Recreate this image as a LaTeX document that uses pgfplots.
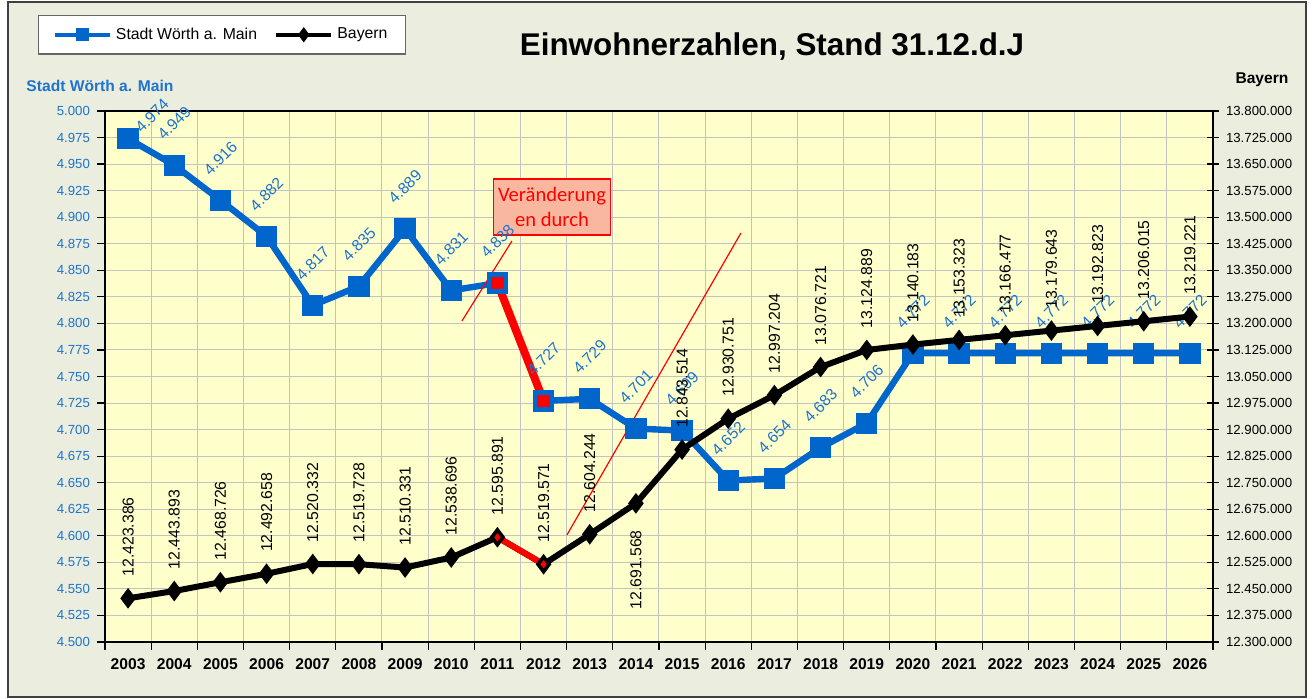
\documentclass[border=0pt]{standalone}
\usepackage{fontspec}
\setmainfont{Liberation Sans}
\newfontfamily\calibri{Carlito}
\usepackage{pgfplots}
\pgfplotsset{compat=1.18}
\definecolor{bgout}{RGB}{235,238,222}
\definecolor{bgplot}{RGB}{255,255,204}
\definecolor{wblue}{RGB}{0,102,204}
\definecolor{wtext}{RGB}{30,115,205}
\definecolor{gridc}{RGB}{195,195,195}
\definecolor{boxfill}{RGB}{250,183,160}

\pgfplotstableread{
x y lab dx dy
0 4974 4.974 12 11.5
1 4949 4.949 0 21
2 4916 4.916 0 21
3 4882 4.882 0 21
4 4817 4.817 0 21
5 4835 4.835 0 21
6 4889 4.889 0 21
7 4831 4.831 0 21
8 4838 4.838 0 21
9 4727 4.727 0 21
10 4729 4.729 0 21
11 4701 4.701 0 21
12 4699 4.699 0 21
13 4652 4.652 0 21
14 4654 4.654 0 21
15 4683 4.683 0 21
16 4706 4.706 0 21
17 4772 4.772 0 21
18 4772 4.772 0 21
19 4772 4.772 0 21
20 4772 4.772 0 21
21 4772 4.772 0 21
22 4772 4.772 0 21
23 4772 4.772 0 21
}\woerth

\pgfplotstableread{
x y lab dy
0 12423386 12.423.386 30.75
1 12443893 12.443.893 30.75
2 12468726 12.468.726 30.75
3 12492658 12.492.658 30.75
4 12520332 12.520.332 30.75
5 12519728 12.519.728 30.75
6 12510331 12.510.331 30.75
7 12538696 12.538.696 30.75
8 12595891 12.595.891 30.75
9 12519571 12.519.571 30.75
10 12604244 12.604.244 30.75
11 12691568 12.691.568 -33.25
12 12843514 12.843.514 30.75
13 12930751 12.930.751 30.75
14 12997204 12.997.204 30.75
15 13076721 13.076.721 30.75
16 13124889 13.124.889 30.75
17 13140183 13.140.183 30.75
18 13153323 13.153.323 30.75
19 13166477 13.166.477 30.75
20 13179643 13.179.643 30.75
21 13192823 13.192.823 30.75
22 13206015 13.206.015 30.75
23 13219221 13.219.221 30.75
}\bayern

\begin{document}
\begin{tikzpicture}
\useasboundingbox (0,0) rectangle (657pt,349.5pt);
\fill[white] (0,0) rectangle (657pt,349.5pt);
\filldraw[fill=bgout, draw=black!75, line width=0.8pt] (4pt,1pt) rectangle (653pt,348.5pt);

\begin{axis}[
  at={(52.5pt,28.5pt)}, anchor=south west,
  scale only axis, width=554pt, height=265.5pt,
  xmin=-0.5, xmax=23.5, ymin=4500, ymax=5000,
  axis background/.style={fill=bgplot},
  clip=false,
  axis line style={black, line width=0.9pt},
  xtick={0,...,23},
  xticklabels={2003,2004,2005,2006,2007,2008,2009,2010,2011,2012,2013,2014,2015,2016,2017,2018,2019,2020,2021,2022,2023,2024,2025,2026},
  every major x tick/.append style={draw=none},
  minor xtick={-0.5,0.5,...,23.5},
  xminorgrids=true,
  minor grid style={gridc, line width=0.5pt},
  major grid style={gridc, line width=0.5pt},
  ytick={4500,4525,...,5000},
  yticklabels={4.500,4.525,4.550,4.575,4.600,4.625,4.650,4.675,4.700,4.725,4.750,4.775,4.800,4.825,4.850,4.875,4.900,4.925,4.950,4.975,5.000},
  ymajorgrids=true,
  xtick pos=bottom, ytick pos=left,
  tick align=outside,
  major tick length=4pt, minor tick length=4pt,
  tick style={black, line width=0.6pt},
  xticklabel style={font=\fontsize{7.8}{9}\selectfont\bfseries, yshift=-1pt},
  yticklabel style={font=\fontsize{6.6}{8}\selectfont, text=wtext},
  legend style={at={(axis description cs:-0.0605,1.1808)}, anchor=north west,
    draw=black!60, fill=white, line width=0.6pt,
    font=\fontsize{7.9}{9.5}\selectfont, inner xsep=7pt, inner ysep=4pt,
    /tikz/every even column/.append style={column sep=6.5pt}},
  legend columns=2, legend cell align=left,
  legend image code/.code={\draw[mark repeat=2,mark phase=2,#1] plot coordinates {(0pt,0pt) (13.75pt,0pt) (27.5pt,0pt)};},
]
\addlegendimage{wblue, line width=2.2pt, mark=square*, mark size=2.2pt}
\addlegendentry{Stadt Wörth a. Main}
\addlegendimage{black, line width=2.2pt, mark=diamond*, mark size=2pt}
\addlegendentry{Bayern}

\addplot[wblue, line width=3.2pt, mark=square*, mark size=3.7pt, mark options={solid},
  nodes near coords, point meta=explicit symbolic,
  visualization depends on={\thisrow{dx} \as \dx},
  visualization depends on={\thisrow{dy} \as \dy},
  every node near coord/.append style={font=\fontsize{7.9}{9}\selectfont, text=wtext,
    anchor=center, xshift=\dx pt, yshift=\dy pt, rotate=45}]
  table[x=x, y=y, meta=lab] {\woerth};
\addplot[red, line width=4pt, mark=square*, mark size=3.5pt,
  mark options={fill=red, draw=wblue, line width=0.8pt}]
  coordinates {(8,4838) (9,4727)};
\addplot[red, line width=0.6pt, no marks] coordinates {(7.232,4802.3) (8.315,4877.6)};
\addplot[red, line width=0.6pt, no marks] coordinates {(9.506,4600.8) (13.275,4885.1)};
\node[draw=red, line width=0.8pt, fill=boxfill, text=red, font=\calibri\fontsize{10.3}{12.5}\selectfont,
  align=center, minimum width=58.5pt, minimum height=28pt, inner sep=1pt]
  at (axis cs:9.182,4909.6) {Veränderung\\en durch};
\end{axis}

\begin{axis}[
  at={(52.5pt,28.5pt)}, anchor=south west,
  scale only axis, width=554pt, height=265.5pt,
  xmin=-0.5, xmax=23.5, ymin=12300000, ymax=13800000,
  clip=false,
  axis x line=none,
  axis y line*=right,
  axis line style={black, line width=0.9pt},
  ytick={12300000,12375000,12450000,12525000,12600000,12675000,12750000,12825000,12900000,12975000,13050000,13125000,13200000,13275000,13350000,13425000,13500000,13575000,13650000,13725000,13800000},
  yticklabels={12.300.000,12.375.000,12.450.000,12.525.000,12.600.000,12.675.000,12.750.000,12.825.000,12.900.000,12.975.000,13.050.000,13.125.000,13.200.000,13.275.000,13.350.000,13.425.000,13.500.000,13.575.000,13.650.000,13.725.000,13.800.000},
  scaled y ticks=false,
  tick align=center, major tick length=6pt,
  tick style={black, line width=0.6pt},
  yticklabel style={font=\fontsize{6.6}{8}\selectfont, text=black},
]
\addplot[black, line width=3pt, mark=diamond*, mark size=2.7pt, mark options={solid},
  nodes near coords, point meta=explicit symbolic,
  visualization depends on={\thisrow{dy} \as \dy},
  every node near coord/.append style={font=\fontsize{7.9}{9}\selectfont, text=black,
    anchor=center, yshift=\dy pt, rotate=90}]
  table[x=x, y=y, meta=lab] {\bayern};
\addplot[red, line width=3pt, mark=diamond*, mark size=2.7pt,
  mark options={fill=red, draw=black, line width=0.6pt}]
  coordinates {(8,12595891) (9,12519571)};
\end{axis}

\node[font=\fontsize{15.7}{18}\selectfont\bfseries] at (386pt,326pt) {Einwohnerzahlen, Stand 31.12.d.J};
\node[font=\fontsize{7.8}{9}\selectfont\bfseries, text=wtext] at (50pt,306.5pt) {Stadt Wörth a. Main};
\node[font=\fontsize{7.8}{9}\selectfont\bfseries] at (631pt,309.5pt) {Bayern};
\end{tikzpicture}
\end{document}
